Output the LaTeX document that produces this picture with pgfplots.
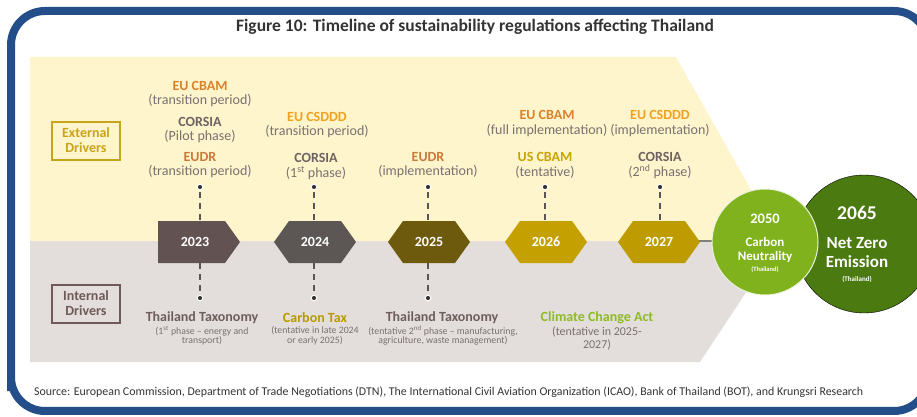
\documentclass[border=0pt]{standalone}
\usepackage{pgfplots}
\pgfplotsset{compat=1.18}
\usepackage{fontspec}
\setmainfont{Carlito}

\definecolor{frameblue}{HTML}{234E8A}
\definecolor{cream}{HTML}{FFF5CC}
\definecolor{greybg}{HTML}{E3DEDC}
\definecolor{hexA}{HTML}{625251}
\definecolor{hexB}{HTML}{5C5655}
\definecolor{hexC}{HTML}{6E5A0C}
\definecolor{hexD}{HTML}{C4A000}
\definecolor{hexE}{HTML}{BE9C00}
\definecolor{lgreen}{HTML}{7FB21C}
\definecolor{dgreen}{HTML}{4B7A10}
\definecolor{cbam}{HTML}{D9822B}
\definecolor{csddd}{HTML}{F2A11F}
\definecolor{eudr}{HTML}{C97A3A}
\definecolor{corsia}{HTML}{6E6262}
\definecolor{subgray}{HTML}{7A7070}
\definecolor{uscbam}{HTML}{C8A400}
\definecolor{ctax}{HTML}{B89A00}
\definecolor{cca}{HTML}{8DBB25}
\definecolor{taxo}{HTML}{6E5E5A}
\definecolor{extc}{HTML}{C8A41A}
\definecolor{intc}{HTML}{6E5A57}
\definecolor{dashc}{HTML}{5A5454}
\definecolor{titlec}{HTML}{333333}

\tikzset{
  hd/.style={font=\bfseries\fontsize{14}{16}\selectfont, inner sep=0pt},
  sb/.style={font=\fontsize{14}{16}\selectfont, text=subgray, inner sep=0pt},
  sm/.style={font=\fontsize{9.8}{11}\selectfont, text=subgray, inner sep=0pt},
  cl/.style={text=white, inner sep=0pt},
}
\pgfplotsset{dsh/.style={draw=dashc,line width=2.6pt,dash pattern=on 6pt off 5pt}}

\begin{document}
\begin{tikzpicture}
\path[use as bounding box] (0,0) rectangle (917pt,417pt);
\clip (0,0) rectangle (917pt,417pt);
\begin{axis}[width=917pt,height=417pt,scale only axis,
  xmin=0,xmax=917,ymin=0,ymax=417,y dir=reverse,hide axis,clip=false]

% background chevron
\addplot[fill=cream,draw=none] coordinates {(30,57) (676,57) (780,241) (30,241)} -- cycle;
\addplot[fill=greybg,draw=none] coordinates {(30,241) (780,241) (700,362) (30,362)} -- cycle;

% connector line
\addplot[draw=gray,line width=1.2pt] coordinates {(698,241) (720,241)};

% dashed connectors
\addplot[dsh] coordinates {(200,192) (200,221)};
\addplot[dsh] coordinates {(314,192) (314,221)};
\addplot[dsh] coordinates {(428,192) (428,221)};
\addplot[dsh] coordinates {(545,192) (545,221)};
\addplot[dsh] coordinates {(660,192) (660,221)};
\addplot[dsh] coordinates {(200,263) (200,293)};
\addplot[dsh] coordinates {(314,263) (314,293)};
\addplot[dsh] coordinates {(428,263) (428,293)};

% dots
\addplot[only marks,mark=*,mark size=2.8pt,mark options={fill=black!80,draw=white,line width=1pt}]
  coordinates {(200,187) (314,187) (428,187) (545,187) (660,187) (200,298) (314,298) (428,298)};

% year shapes
\addplot[fill=hexA,draw=none] coordinates {(158,221) (225,221) (240,242) (225,263) (158,263)} -- cycle;
\addplot[fill=hexB,draw=none] coordinates {(274,242) (289,221) (341,221) (356,242) (341,263) (289,263)} -- cycle;
\addplot[fill=hexC,draw=none] coordinates {(388,242) (403,221) (455,221) (470,242) (455,263) (403,263)} -- cycle;
\addplot[fill=hexD,draw=none] coordinates {(505,242) (520,221) (572,221) (587,242) (572,263) (520,263)} -- cycle;
\addplot[fill=hexE,draw=none] coordinates {(618,242) (633,221) (685,221) (700,242) (685,263) (633,263)} -- cycle;

% circles
\addplot[only marks,mark=*,mark size=69pt,mark options={fill=dgreen,draw=none}] coordinates {(864,244)};
\addplot[only marks,mark=*,mark size=53pt,mark options={fill=lgreen,draw=white!85!lgreen,line width=1pt}] coordinates {(765,242)};

% driver boxes
\addplot[draw=extc,line width=2pt] coordinates {(52,122) (120,122) (120,160) (52,160)} -- cycle;
\addplot[draw=intc,line width=2pt] coordinates {(52,285) (120,285) (120,323) (52,323)} -- cycle;

% anchor points for circle labels
\coordinate (a1) at (765,219);
\coordinate (a2) at (765,242);
\coordinate (a3) at (765,257);
\coordinate (a4) at (765,270);
\coordinate (b1) at (857,213);
\coordinate (b2) at (857,243);
\coordinate (b3) at (857,262);
\coordinate (b4) at (857,279);

% year labels
\node[hd,text=white] at (195,242) {2023};
\node[hd,text=white] at (315,242) {2024};
\node[hd,text=white] at (429,242) {2025};
\node[hd,text=white] at (546,242) {2026};
\node[hd,text=white] at (659,242) {2027};

% driver labels
\node[hd,text=extc] at (86,133) {External};
\node[hd,text=extc] at (86,148) {Drivers};
\node[hd,text=intc] at (86,296) {Internal};
\node[hd,text=intc] at (86,311) {Drivers};

% upper texts
\node[hd,text=cbam] at (200,86) {EU CBAM};
\node[sb] at (200,101) {(transition period)};
\node[hd,text=corsia] at (200,122) {CORSIA};
\node[sb] at (200,137) {(Pilot phase)};
\node[hd,text=eudr] at (200,157) {EUDR};
\node[sb] at (200,172) {(transition period)};

\node[hd,text=csddd] at (317,117) {EU CSDDD};
\node[sb] at (317,132) {(transition period)};
\node[hd,text=corsia] at (316,158) {CORSIA};
\node[sb] at (316,173) {(1\textsuperscript{st} phase)};

\node[hd,text=eudr] at (428,157) {EUDR};
\node[sb] at (428,172) {(implementation)};

\node[hd,text=cbam] at (547,115) {EU CBAM};
\node[sb] at (547,131) {(full implementation)};
\node[hd,text=uscbam] at (545,157) {US CBAM};
\node[sb] at (545,172) {(tentative)};

\node[hd,text=csddd] at (660,115) {EU CSDDD};
\node[sb] at (660,131) {(implementation)};
\node[hd,text=corsia] at (660,157) {CORSIA};
\node[sb] at (660,172) {(2\textsuperscript{nd} phase)};

% lower texts
\node[hd,text=taxo] at (202,318) {Thailand Taxonomy};
\node[sm] at (202,331) {(1\textsuperscript{st} phase -- energy and};
\node[sm] at (202,341) {transport)};
\node[hd,text=ctax] at (315,318) {Carbon Tax};
\node[sm] at (315,331) {(tentative in late 2024};
\node[sm] at (315,341) {or early 2025)};
\node[hd,text=taxo] at (442,318) {Thailand Taxonomy};
\node[sm] at (443,331) {(tentative 2\textsuperscript{nd} phase -- manufacturing,};
\node[sm] at (443,341) {agriculture, waste management)};
\node[hd,text=cca] at (597,318) {Climate Change Act};
\node[sb,font=\fontsize{12}{14}\selectfont] at (597,332) {(tentative in 2025-};
\node[sb,font=\fontsize{12}{14}\selectfont] at (597,345) {2027)};

% title and source
\node[font=\bfseries\fontsize{17.5}{19}\selectfont,text=titlec,inner sep=0pt] at (475,27) {Figure 10: Timeline of sustainability regulations affecting Thailand};
\node[font=\fontsize{11.9}{13}\selectfont,text=titlec,inner sep=0pt,anchor=west] at (34,392) {Source: European Commission, Department of Trade Negotiations (DTN), The International Civil Aviation Organization (ICAO), Bank of Thailand (BOT), and Krungsri Research};
\end{axis}
% circle labels (drawn over the circles)
\node[cl,font=\bfseries\fontsize{14.5}{16}\selectfont] at (a1) {2050};
\node[cl,font=\bfseries\fontsize{13}{15}\selectfont] at (a2) {Carbon};
\node[cl,font=\bfseries\fontsize{13}{15}\selectfont] at (a3) {Neutrality};
\node[cl,font=\bfseries\fontsize{6.5}{7}\selectfont] at (a4) {(Thailand)};
\node[cl,font=\bfseries\fontsize{19.5}{21}\selectfont] at (b1) {2065};
\node[cl,font=\bfseries\fontsize{17}{19}\selectfont] at (b2) {Net Zero};
\node[cl,font=\bfseries\fontsize{17}{19}\selectfont] at (b3) {Emission};
\node[cl,font=\bfseries\fontsize{7}{8}\selectfont] at (b4) {(Thailand)};
\draw[frameblue,line width=8pt,rounded corners=34pt] (11pt,6pt) -- (11pt,406pt) -- (928pt,406pt) -- (928pt,6pt) -- (11pt,6pt) -- cycle;
\end{tikzpicture}
\end{document}
